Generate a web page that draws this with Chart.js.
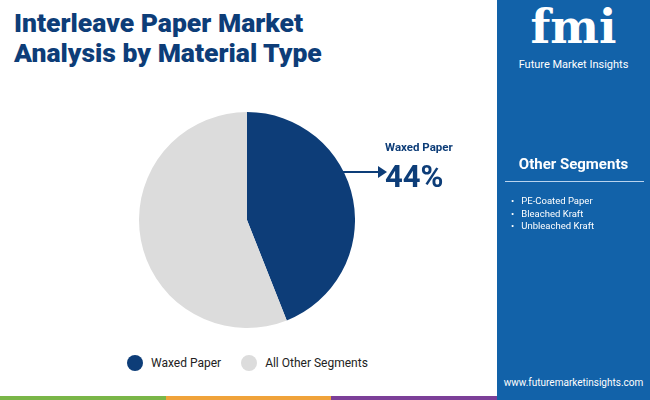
<!DOCTYPE html>
<html>
<head>
<meta charset="utf-8">
<script src="https://cdn.jsdelivr.net/npm/chart.js@4"></script>
<style>
  body { margin: 0; width: 650px; height: 400px; position: relative; overflow: hidden; font-family: Roboto, sans-serif; background: #fff; }
  #title { position: absolute; left: 14px; top: 8px; font-size: 26.5px; font-weight: 900; color: #0d3d78; line-height: 30px; }
  #pie { position: absolute; left: 139px; top: 112px; width: 216px; height: 216px; }
  #panel { position: absolute; left: 497px; top: 0; width: 153px; height: 400px; background: #1262a9; color: #fff; }
  #logo { position: absolute; left: 0; width: 153px; top: 2px; text-align: center; font-family: "DejaVu Serif", serif; font-size: 46px; font-weight: bold; line-height: 50px; }
  #logo2 { position: absolute; left: 0; width: 153px; top: 58px; text-align: center; font-size: 11px; }
  #other { position: absolute; left: 0; width: 153px; top: 155px; text-align: center; font-size: 15px; font-weight: bold; }
  #rule { position: absolute; left: 8px; width: 139px; top: 181px; border-top: 1.5px solid #b9d3ee; }
  #list { position: absolute; left: 14px; top: 195px; font-size: 9.5px; line-height: 12.5px; }
  #url { position: absolute; left: 0; width: 153px; top: 377px; text-align: center; font-size: 10px; }
  #callout { position: absolute; left: 385px; top: 140px; color: #0d3d78; font-weight: bold; }
  #legend { position: absolute; top: 355px; left: 127px; font-size: 12px; color: #222; display: flex; align-items: center; }
  .dot { width: 16px; height: 16px; border-radius: 50%; display: inline-block; margin-right: 8px; }
  #stripe { position: absolute; left: 0; bottom: 0; width: 497px; height: 4px; display: flex; }
</style>
</head>
<body>
<div id="title">Interleave Paper Market<br>Analysis by Material Type</div>
<canvas id="pie"></canvas>
<svg style="position:absolute;left:340px;top:162px" width="50" height="20">
  <line x1="3" y1="10" x2="40" y2="10" stroke="#0d3d78" stroke-width="2"/>
  <polygon points="38,4 47,10 38,16" fill="#0d3d78"/>
</svg>
<div id="callout"><div style="font-size:11.5px">Waxed Paper</div><div style="font-size:31px;margin-top:4px">44%</div></div>
<div id="legend">
  <span class="dot" style="background:#0d3d78"></span>Waxed Paper
  <span class="dot" style="background:#dcdcdc;margin-left:20px"></span>All Other Segments
</div>
<div id="stripe"><div style="flex:1;background:#7ab648"></div><div style="flex:1;background:#f0a33a"></div><div style="flex:1;background:#7c3f98"></div></div>
<div id="panel">
  <div id="logo">fmi</div>
  <div id="logo2">Future Market Insights</div>
  <div id="other">Other Segments</div>
  <div id="rule"></div>
  <div id="list">•&nbsp;&nbsp;&nbsp;PE-Coated Paper<br>•&nbsp;&nbsp;&nbsp;Bleached Kraft<br>•&nbsp;&nbsp;&nbsp;Unbleached Kraft</div>
  <div id="url">www.futuremarketinsights.com</div>
</div>
<script>
const categories = ["Waxed Paper", "All Other Segments"];
const shares = [44, 56];
const colors = ["#0d3d78", "#dcdcdc"];

new Chart(document.getElementById("pie"), {
  type: "pie",
  data: { labels: categories, datasets: [{ data: shares, backgroundColor: colors, borderWidth: 0 }] },
  options: {
    responsive: false,
    animation: false,
    plugins: { legend: { display: false }, tooltip: { enabled: false } }
  }
});
</script>
</body>
</html>
